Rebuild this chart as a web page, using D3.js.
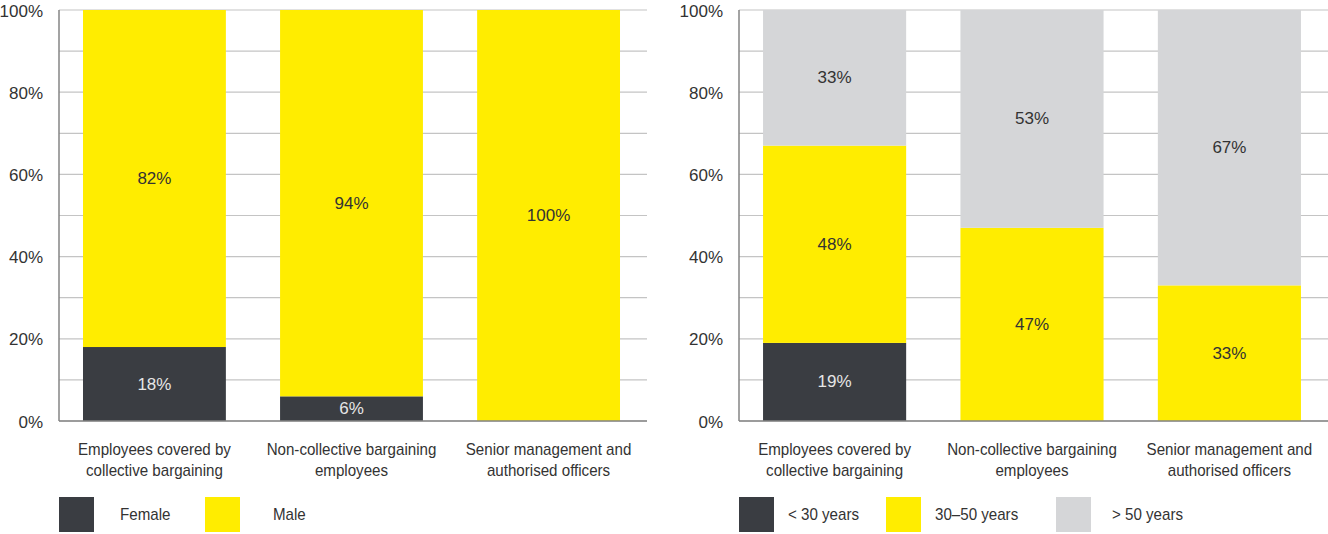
<!DOCTYPE html>
<html>
<head>
<meta charset="utf-8">
<script src="https://cdn.jsdelivr.net/npm/d3@7"></script>
<style>
  body { margin: 0; background: #fff; }
  svg text { font-family: "Liberation Sans", Arial, sans-serif; font-size: 17px; fill: #333; }
</style>
</head>
<body>
<svg id="chart" width="1328" height="534"></svg>
<script>
// data
const categories = [
  ["Employees covered by", "collective bargaining"],
  ["Non-collective bargaining", "employees"],
  ["Senior management and", "authorised officers"]
];
const genderKeys = ["Female", "Male"];
const female = [18, 6, 0];
const male = [82, 94, 100];
const ageKeys = ["< 30 years", "30–50 years", "> 50 years"];
const under30 = [19, 0, 0];
const age30to50 = [48, 47, 33];
const over50 = [33, 53, 67];
const yTicks = [0, 20, 40, 60, 80, 100];
const gridTicks = [0, 10, 20, 30, 40, 50, 60, 70, 80, 90, 100];

const colors = { dark: "#3a3d42", yellow: "#ffed00", gray: "#d5d6d8" };

const svg = d3.select("svg#chart");
const plotTop = 10, plotBottom = 421;
const y = d3.scaleLinear().domain([0, 100]).range([plotBottom, plotTop]);

// condensed look for word labels
function wordText(g, str, x, yy, anchor) {
  return g.append("text")
    .text(str)
    .attr("transform", `translate(${x},${yy}) scale(0.89,1)`)
    .attr("text-anchor", anchor)
    .attr("dominant-baseline", "central");
}

function drawPanel(axisX, rightX, keys, series, fills, labelFills, legendX, legendTextX) {
  const g = svg.append("g");
  const x = d3.scaleBand()
    .domain(categories.map((c, i) => i))
    .range([axisX - 3, rightX])
    .paddingInner(0.275)
    .paddingOuter(0.137);

  // gridlines
  g.append("g")
    .selectAll("line")
    .data(gridTicks)
    .join("line")
    .attr("x1", axisX)
    .attr("x2", rightX)
    .attr("y1", d => y(d))
    .attr("y2", d => y(d))
    .attr("stroke", "#c4c4c4")
    .attr("stroke-width", 1.2);

  // stacked bars
  const rows = categories.map((c, i) => {
    const r = { i };
    keys.forEach((k, j) => r[k] = series[j][i]);
    return r;
  });
  const stacked = d3.stack().keys(keys)(rows);
  stacked.forEach((layer, j) => {
    g.append("g")
      .selectAll("rect")
      .data(layer.filter(d => d[1] - d[0] > 0))
      .join("rect")
      .attr("x", d => x(d.data.i))
      .attr("y", d => y(d[1]))
      .attr("width", x.bandwidth())
      .attr("height", d => y(d[0]) - y(d[1]))
      .attr("fill", fills[j]);
    g.append("g")
      .selectAll("text")
      .data(layer.filter(d => d[1] - d[0] > 0))
      .join("text")
      .text(d => (d[1] - d[0]) + "%")
      .attr("x", d => x(d.data.i) + x.bandwidth() / 2)
      .attr("y", d => y((d[0] + d[1]) / 2))
      .attr("text-anchor", "middle")
      .attr("dominant-baseline", "central")
      .style("fill", labelFills[j]);
  });

  // axes lines
  g.append("line")
    .attr("x1", axisX).attr("x2", axisX)
    .attr("y1", plotTop).attr("y2", plotBottom)
    .attr("stroke", "#858585").attr("stroke-width", 1.5);
  g.append("line")
    .attr("x1", axisX).attr("x2", rightX)
    .attr("y1", plotBottom).attr("y2", plotBottom)
    .attr("stroke", "#858585").attr("stroke-width", 1.5);

  // y tick labels
  g.append("g")
    .selectAll("text")
    .data(yTicks)
    .join("text")
    .text(d => d + "%")
    .attr("x", axisX - 16)
    .attr("y", d => y(d) + 1)
    .attr("text-anchor", "end")
    .attr("dominant-baseline", "central");

  // category labels
  categories.forEach((lines, i) => {
    lines.forEach((line, k) => {
      wordText(g, line, x(i) + x.bandwidth() / 2, 449 + k * 21, "middle");
    });
  });

  // legend
  keys.forEach((k, j) => {
    g.append("rect")
      .attr("x", legendX[j])
      .attr("y", 497)
      .attr("width", 35)
      .attr("height", 35)
      .attr("fill", fills[j]);
    wordText(g, k, legendTextX[j], 514, "start");
  });
}

drawPanel(59, 647, genderKeys, [female, male],
  [colors.dark, colors.yellow], ["#e6e6e6", "#333"], [59, 205], [120, 273]);
drawPanel(739, 1328, ageKeys, [under30, age30to50, over50],
  [colors.dark, colors.yellow, colors.gray], ["#e6e6e6", "#333", "#333"],
  [739, 886, 1056], [788, 935, 1112]);
</script>
</body>
</html>
